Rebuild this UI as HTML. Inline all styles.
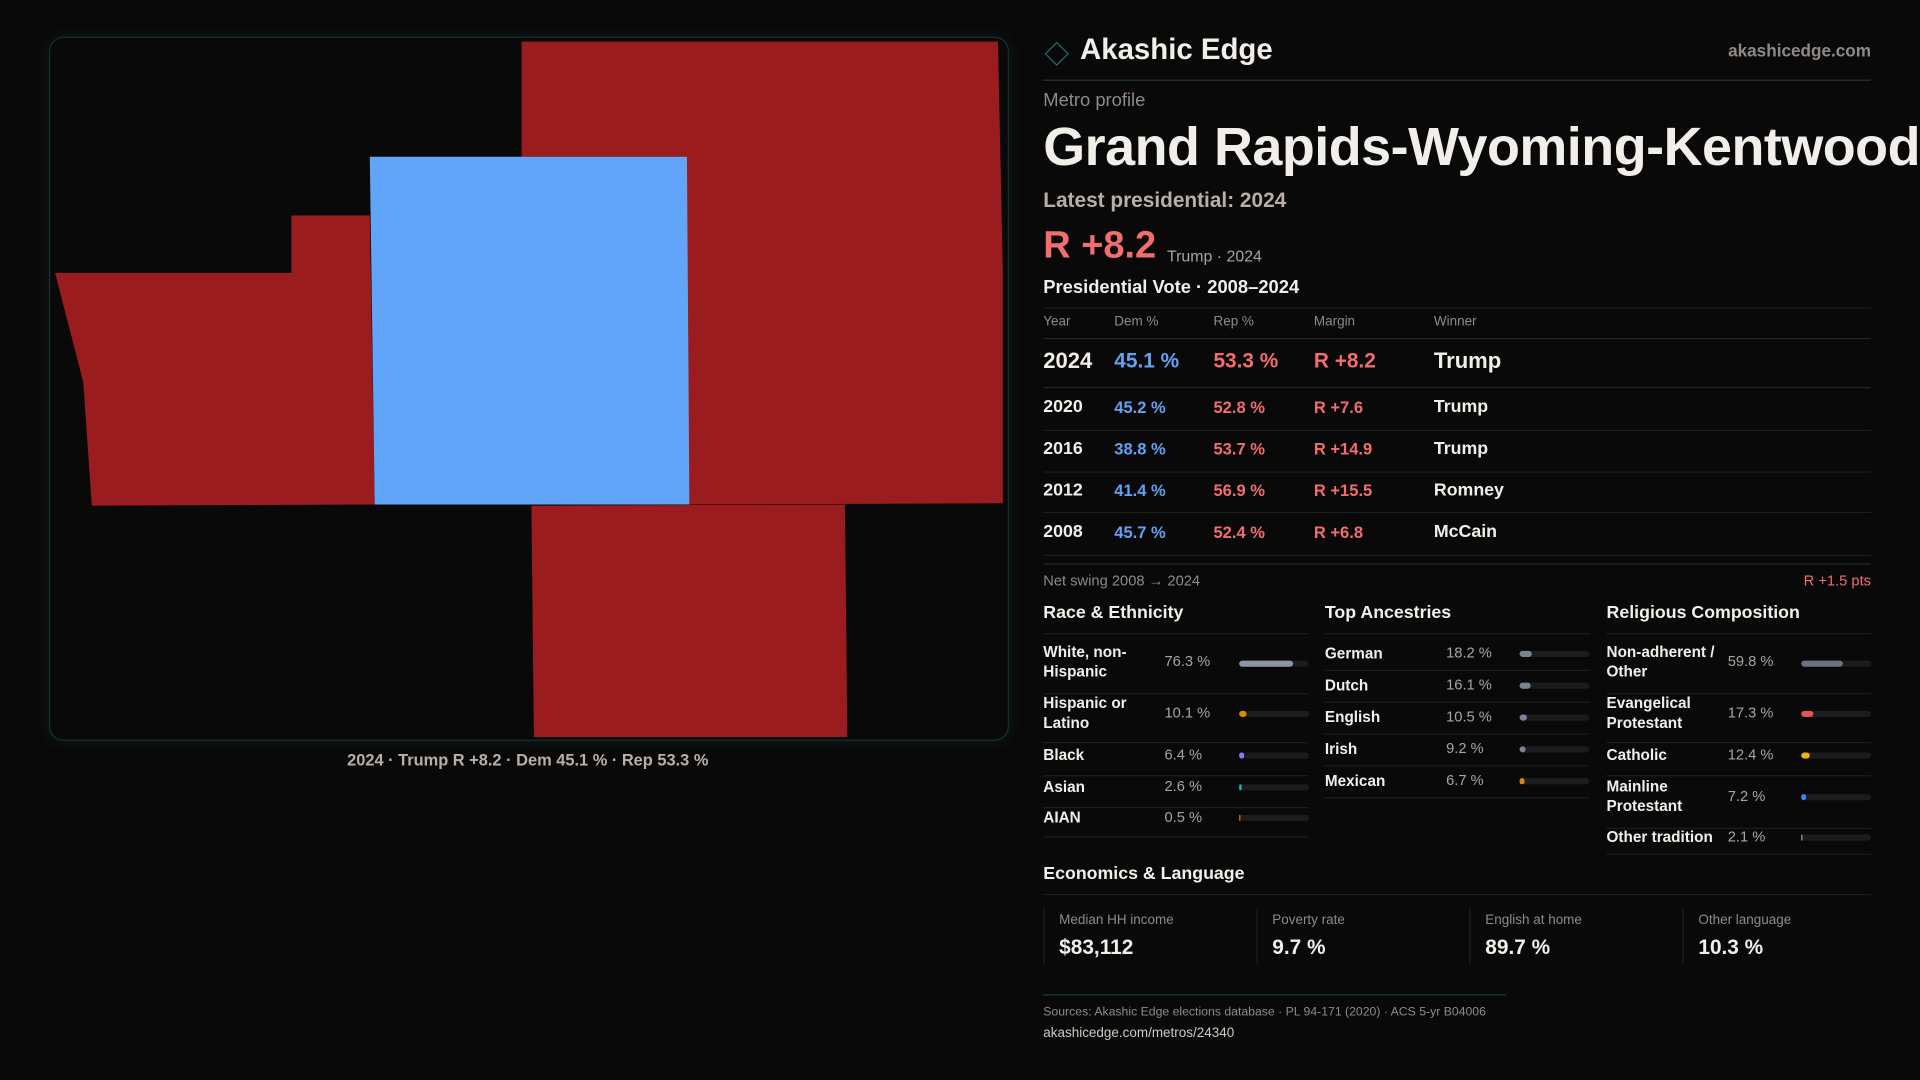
<!DOCTYPE html>
<html><head><meta charset="utf-8"><style>
html,body{margin:0;padding:0;background:#0a0909;overflow:hidden;width:1920px;height:1080px}
#root{position:absolute;left:0;top:0;width:1568px;height:882px;transform:scale(1.2244898);transform-origin:0 0;font-family:"Liberation Sans",sans-serif;color:#f2efea}
.t{position:absolute;transform:translateY(-50%);white-space:nowrap;line-height:1.15}
.g{color:#8f8a85}
.r{color:#f26d6d}
.b{color:#5fa3f5}
.ln{position:absolute;height:1px;background:#1d1d1d}
.bar{position:absolute;height:5px;border-radius:3px;background:#1c1c1e;transform:translateY(-50%)}
.bar i{position:absolute;left:0;top:0;height:5px;border-radius:3px}
.lab{font-size:12.5px;font-weight:bold;color:#f2efea}
.val{font-size:12px;color:#aaa49e}
.sb{font-weight:bold}
</style></head><body><div id="root">
<div style="position:absolute;left:40px;top:30px;width:782px;height:573px;border:1px solid #16302f;border-radius:12px;background:#0a0909;box-shadow:0 0 12px rgba(30,80,80,0.25)"></div>
<svg style="position:absolute;left:0;top:0" width="1568" height="882">
<polygon points="426,34 815,34 819,223 561,223 561,128 426,128" fill="#9b1c1f"/>
<polygon points="561,223 819,223 819,411 563,412" fill="#9b1c1f"/>
<polygon points="238,176 302,176 306,412 75,413 68,312 45,223 238,223" fill="#9b1c1f"/>
<polygon points="434,413 690,412 692,602 436,602" fill="#9b1c1f"/>
<polygon points="302,128 561,128 563,412 306,412" fill="#60a5fa"/>
</svg>
<div class="t" style="left:431px;top:621px;transform:translate(-50%,-50%);font-size:13.4px;color:#b8b0a8;font-weight:bold">2024 · Trump R +8.2 · Dem 45.1 % · Rep 53.3 %</div>

<div style="position:absolute;left:856px;top:37px;width:12px;height:12px;border:1.5px solid #1f6a70;transform:rotate(45deg)"></div>
<div class="t" style="left:882px;top:41px;font-size:24px;font-weight:bold">Akashic Edge</div>
<div class="t g" style="right:40px;top:41px;font-size:14px;font-weight:bold">akashicedge.com</div>
<div class="ln" style="left:852px;top:65px;width:676px;background:#1d3536"></div>
<div class="t g" style="left:852px;top:82px;font-size:15px">Metro profile</div>
<div class="t" style="left:852px;top:121px;font-size:44px;font-weight:bold;letter-spacing:-0.4px">Grand Rapids-Wyoming-Kentwood</div>
<div class="t" style="left:852px;top:164px;font-size:17px;color:#b8b0a8;font-weight:bold">Latest presidential: 2024</div>
<div class="t r" style="left:852px;top:200px;font-size:31px;font-weight:bold">R +8.2</div>
<div class="t" style="left:953px;top:210px;font-size:13px;color:#aaa49e">Trump · 2024</div>
<div class="t" style="left:852px;top:235px;font-size:15px;font-weight:bold">Presidential Vote · 2008–2024</div>
<div class="ln" style="left:852px;top:251px;width:676px"></div>
<div class="t g" style="left:852px;top:263px;font-size:11px">Year</div>
<div class="t g" style="left:910px;top:263px;font-size:11px">Dem %</div>
<div class="t g" style="left:991px;top:263px;font-size:11px">Rep %</div>
<div class="t g" style="left:1073px;top:263px;font-size:11px">Margin</div>
<div class="t g" style="left:1171px;top:263px;font-size:11px">Winner</div>
<div class="ln" style="left:852px;top:276px;width:676px;background:#262626"></div>

<div class="t" style="left:852px;top:295px;font-size:18px;font-weight:bold">2024</div>
<div class="t b sb" style="left:910px;top:295px;font-size:17px">45.1 %</div>
<div class="t r sb" style="left:991px;top:295px;font-size:17px">53.3 %</div>
<div class="t r sb" style="left:1073px;top:295px;font-size:17px">R +8.2</div>
<div class="t" style="left:1171px;top:295px;font-size:18px;font-weight:bold">Trump</div>
<div class="ln" style="left:852px;top:316px;width:676px;background:#262626"></div>

<div class="t" style="left:852px;top:333px;font-size:14.5px;font-weight:bold">2020</div>
<div class="t b sb" style="left:910px;top:333px;font-size:13.5px">45.2 %</div>
<div class="t r sb" style="left:991px;top:333px;font-size:13.5px">52.8 %</div>
<div class="t r sb" style="left:1073px;top:333px;font-size:13.5px">R +7.6</div>
<div class="t" style="left:1171px;top:333px;font-size:14.5px;font-weight:bold">Trump</div>
<div class="ln" style="left:852px;top:351px;width:676px"></div>

<div class="t" style="left:852px;top:367px;font-size:14.5px;font-weight:bold">2016</div>
<div class="t b sb" style="left:910px;top:367px;font-size:13.5px">38.8 %</div>
<div class="t r sb" style="left:991px;top:367px;font-size:13.5px">53.7 %</div>
<div class="t r sb" style="left:1073px;top:367px;font-size:13.5px">R +14.9</div>
<div class="t" style="left:1171px;top:367px;font-size:14.5px;font-weight:bold">Trump</div>
<div class="ln" style="left:852px;top:385px;width:676px"></div>

<div class="t" style="left:852px;top:401px;font-size:14.5px;font-weight:bold">2012</div>
<div class="t b sb" style="left:910px;top:401px;font-size:13.5px">41.4 %</div>
<div class="t r sb" style="left:991px;top:401px;font-size:13.5px">56.9 %</div>
<div class="t r sb" style="left:1073px;top:401px;font-size:13.5px">R +15.5</div>
<div class="t" style="left:1171px;top:401px;font-size:14.5px;font-weight:bold">Romney</div>
<div class="ln" style="left:852px;top:418px;width:676px"></div>

<div class="t" style="left:852px;top:435px;font-size:14.5px;font-weight:bold">2008</div>
<div class="t b sb" style="left:910px;top:435px;font-size:13.5px">45.7 %</div>
<div class="t r sb" style="left:991px;top:435px;font-size:13.5px">52.4 %</div>
<div class="t r sb" style="left:1073px;top:435px;font-size:13.5px">R +6.8</div>
<div class="t" style="left:1171px;top:435px;font-size:14.5px;font-weight:bold">McCain</div>
<div class="ln" style="left:852px;top:453px;width:676px"></div>
<div class="ln" style="left:852px;top:460px;width:676px;background:#262626"></div>
<div class="t g" style="left:852px;top:475px;font-size:12px">Net swing 2008 → 2024</div>
<div class="t r" style="right:40px;top:475px;font-size:12px">R +1.5 pts</div>

<div class="t" style="left:852px;top:501px;font-size:14.5px;font-weight:bold">Race &amp; Ethnicity</div>
<div class="t" style="left:1082px;top:501px;font-size:14.5px;font-weight:bold">Top Ancestries</div>
<div class="t" style="left:1312px;top:501px;font-size:14.5px;font-weight:bold">Religious Composition</div>
<div class="ln" style="left:852px;top:517px;width:216px"></div>
<div class="ln" style="left:1082px;top:517px;width:216px"></div>
<div class="ln" style="left:1312px;top:517px;width:216px"></div>

<div class="t lab" style="left:852px;top:541px;line-height:1.25">White, non-<br>Hispanic</div>
<div class="t val" style="left:951px;top:541px">76.3 %</div>
<div class="bar" style="left:1012px;top:542px;width:57px"><i style="width:44px;background:#8b95a5"></i></div>
<div class="ln" style="left:852px;top:566px;width:216px"></div>
<div class="t lab" style="left:852px;top:583px;line-height:1.25">Hispanic or<br>Latino</div>
<div class="t val" style="left:951px;top:583px">10.1 %</div>
<div class="bar" style="left:1012px;top:583px;width:57px"><i style="width:6px;background:#d98a06"></i></div>
<div class="ln" style="left:852px;top:606px;width:216px"></div>
<div class="t lab" style="left:852px;top:617px">Black</div>
<div class="t val" style="left:951px;top:617px">6.4 %</div>
<div class="bar" style="left:1012px;top:617px;width:57px"><i style="width:4px;background:#8b7cf6"></i></div>
<div class="ln" style="left:852px;top:633px;width:216px"></div>
<div class="t lab" style="left:852px;top:643px">Asian</div>
<div class="t val" style="left:951px;top:643px">2.6 %</div>
<div class="bar" style="left:1012px;top:643px;width:57px"><i style="width:2px;background:#14b8a6"></i></div>
<div class="ln" style="left:852px;top:659px;width:216px"></div>
<div class="t lab" style="left:852px;top:668px">AIAN</div>
<div class="t val" style="left:951px;top:668px">0.5 %</div>
<div class="bar" style="left:1012px;top:668px;width:57px"><i style="width:1px;background:#d97706"></i></div>
<div class="ln" style="left:852px;top:683px;width:216px"></div>

<div class="t lab" style="left:1082px;top:534px">German</div>
<div class="t val" style="left:1181px;top:534px">18.2 %</div>
<div class="bar" style="left:1241px;top:534px;width:57px"><i style="width:10px;background:#7c8494"></i></div>
<div class="ln" style="left:1082px;top:547px;width:216px"></div>
<div class="t lab" style="left:1082px;top:560px">Dutch</div>
<div class="t val" style="left:1181px;top:560px">16.1 %</div>
<div class="bar" style="left:1241px;top:560px;width:57px"><i style="width:9px;background:#7c8494"></i></div>
<div class="ln" style="left:1082px;top:573px;width:216px"></div>
<div class="t lab" style="left:1082px;top:586px">English</div>
<div class="t val" style="left:1181px;top:586px">10.5 %</div>
<div class="bar" style="left:1241px;top:586px;width:57px"><i style="width:6px;background:#7c8494"></i></div>
<div class="ln" style="left:1082px;top:599px;width:216px"></div>
<div class="t lab" style="left:1082px;top:612px">Irish</div>
<div class="t val" style="left:1181px;top:612px">9.2 %</div>
<div class="bar" style="left:1241px;top:612px;width:57px"><i style="width:5px;background:#7c8494"></i></div>
<div class="ln" style="left:1082px;top:625px;width:216px"></div>
<div class="t lab" style="left:1082px;top:638px">Mexican</div>
<div class="t val" style="left:1181px;top:638px">6.7 %</div>
<div class="bar" style="left:1241px;top:638px;width:57px"><i style="width:4px;background:#d98a06"></i></div>
<div class="ln" style="left:1082px;top:651px;width:216px"></div>

<div class="t lab" style="left:1312px;top:541px;line-height:1.25">Non-adherent /<br>Other</div>
<div class="t val" style="left:1411px;top:541px">59.8 %</div>
<div class="bar" style="left:1471px;top:542px;width:57px"><i style="width:34px;background:#6b7280"></i></div>
<div class="ln" style="left:1312px;top:566px;width:216px"></div>
<div class="t lab" style="left:1312px;top:583px;line-height:1.25">Evangelical<br>Protestant</div>
<div class="t val" style="left:1411px;top:583px">17.3 %</div>
<div class="bar" style="left:1471px;top:583px;width:57px"><i style="width:10px;background:#e05555"></i></div>
<div class="ln" style="left:1312px;top:606px;width:216px"></div>
<div class="t lab" style="left:1312px;top:617px">Catholic</div>
<div class="t val" style="left:1411px;top:617px">12.4 %</div>
<div class="bar" style="left:1471px;top:617px;width:57px"><i style="width:7px;background:#eab308"></i></div>
<div class="ln" style="left:1312px;top:633px;width:216px"></div>
<div class="t lab" style="left:1312px;top:651px;line-height:1.25">Mainline<br>Protestant</div>
<div class="t val" style="left:1411px;top:651px">7.2 %</div>
<div class="bar" style="left:1471px;top:651px;width:57px"><i style="width:4px;background:#3b82f6"></i></div>
<div class="ln" style="left:1312px;top:676px;width:216px"></div>
<div class="t lab" style="left:1312px;top:684px">Other tradition</div>
<div class="t val" style="left:1411px;top:684px">2.1 %</div>
<div class="bar" style="left:1471px;top:684px;width:57px"><i style="width:1px;background:#9ca3af"></i></div>
<div class="ln" style="left:1312px;top:697px;width:216px"></div>

<div class="t" style="left:852px;top:714px;font-size:14.5px;font-weight:bold">Economics &amp; Language</div>
<div class="ln" style="left:852px;top:730px;width:676px"></div>
<div style="position:absolute;left:852px;top:742px;width:1px;height:45px;background:#1f1f1f"></div>
<div style="position:absolute;left:1026px;top:742px;width:1px;height:45px;background:#1f1f1f"></div>
<div style="position:absolute;left:1200px;top:742px;width:1px;height:45px;background:#1f1f1f"></div>
<div style="position:absolute;left:1374px;top:742px;width:1px;height:45px;background:#1f1f1f"></div>
<div class="t g" style="left:865px;top:752px;font-size:11px">Median HH income</div>
<div class="t" style="left:865px;top:774px;font-size:17px;font-weight:bold">$83,112</div>
<div class="t g" style="left:1039px;top:752px;font-size:11px">Poverty rate</div>
<div class="t" style="left:1039px;top:774px;font-size:17px;font-weight:bold">9.7 %</div>
<div class="t g" style="left:1213px;top:752px;font-size:11px">English at home</div>
<div class="t" style="left:1213px;top:774px;font-size:17px;font-weight:bold">89.7 %</div>
<div class="t g" style="left:1387px;top:752px;font-size:11px">Other language</div>
<div class="t" style="left:1387px;top:774px;font-size:17px;font-weight:bold">10.3 %</div>

<div class="ln" style="left:852px;top:812px;width:378px;background:#1d3a3b"></div>
<div class="t g" style="left:852px;top:827px;font-size:10px">Sources: Akashic Edge elections database · PL 94-171 (2020) · ACS 5-yr B04006</div>
<div class="t" style="left:852px;top:844px;font-size:11px;color:#cfc9c2">akashicedge.com/metros/24340</div>
</div></body></html>
